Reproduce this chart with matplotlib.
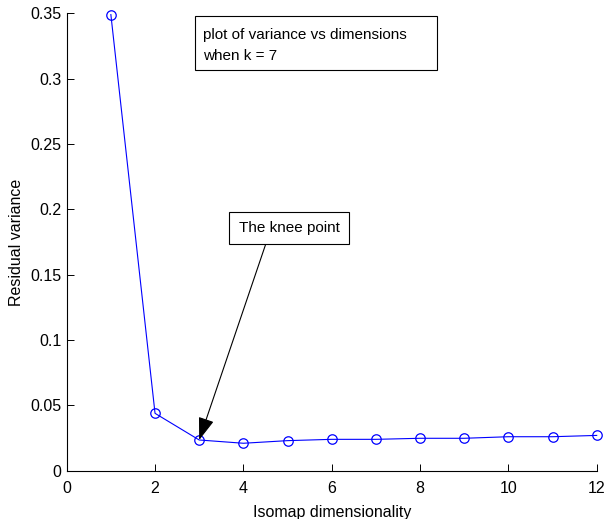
import matplotlib
matplotlib.use("Agg")
import matplotlib.pyplot as plt
from matplotlib.patches import Rectangle

dims = [1, 2, 3, 4, 5, 6, 7, 8, 9, 10, 11, 12]
residual_variance = [0.349, 0.0439, 0.0235, 0.021, 0.023, 0.024, 0.024, 0.0248, 0.0248, 0.026, 0.026, 0.027]
xtick_vals = [0, 2, 4, 6, 8, 10, 12]
xtick_labels = ["0", "2", "4", "6", "8", "10", "12"]
ytick_vals = [0, 0.05, 0.1, 0.15, 0.2, 0.25, 0.3, 0.35]
ytick_labels = ["0", "0.05", "0.1", "0.15", "0.2", "0.25", "0.3", "0.35"]
knee_index = 2

plt.rcParams['font.family'] = ['Liberation Sans', 'DejaVu Sans']

W, H = 605, 519
fig = plt.figure(figsize=(W / 100, H / 100), dpi=100)
ax = fig.add_axes([66.7 / W, 1 - 470.7 / H, 530 / W, 457.4 / H])

ax.plot(dims, residual_variance, color=(0, 0, 1), linewidth=0.8,
        marker='o', markersize=6.8, markerfacecolor='none',
        markeredgecolor=(0, 0, 1), markeredgewidth=0.9, clip_on=False)

ax.set_xlim(0, 12)
ax.set_ylim(0, 0.35)
ax.set_xticks(xtick_vals)
ax.set_xticklabels(xtick_labels)
ax.set_yticks(ytick_vals)
ax.set_yticklabels(ytick_labels)
ax.tick_params(direction='in', length=5, width=0.7, labelsize=11.5)
ax.tick_params(axis='x', pad=7.4)
ax.tick_params(axis='y', pad=4)
for s in ['top', 'right']:
    ax.spines[s].set_visible(False)
for s in ['left', 'bottom']:
    ax.spines[s].set_linewidth(0.8)

ax.set_xlabel("Isomap dimensionality", fontsize=11.5, labelpad=6.5)
ax.set_ylabel("Residual variance", fontsize=11.5, labelpad=4)

# top annotation box
fig.patches.append(Rectangle((195 / W, 1 - 70 / H), 242 / W, 54 / H,
                             transform=fig.transFigure, facecolor='white',
                             edgecolor='black', linewidth=0.8))
fig.text(203 / W, 1 - 35 / H, "plot of variance vs dimensions", fontsize=11,
         ha='left', va='center')
fig.text(203 / W, 1 - 56.5 / H, "when k = 7", fontsize=11,
         ha='left', va='center')

# knee point annotation
ax.annotate("The knee point",
            xy=(dims[knee_index], residual_variance[knee_index]), xycoords='data',
            xytext=(289 / W, 1 - 228 / H), textcoords='figure fraction',
            fontsize=11, ha='center', va='center',
            bbox=dict(boxstyle='square,pad=0.62', facecolor='white',
                      edgecolor='black', linewidth=0.8),
            arrowprops=dict(arrowstyle='-|>,head_length=1.0,head_width=0.35',
                            color='black', linewidth=0.8, shrinkA=0, shrinkB=0,
                            relpos=(0.3, 0), mutation_scale=14))

fig.savefig("out.png", dpi=100)
